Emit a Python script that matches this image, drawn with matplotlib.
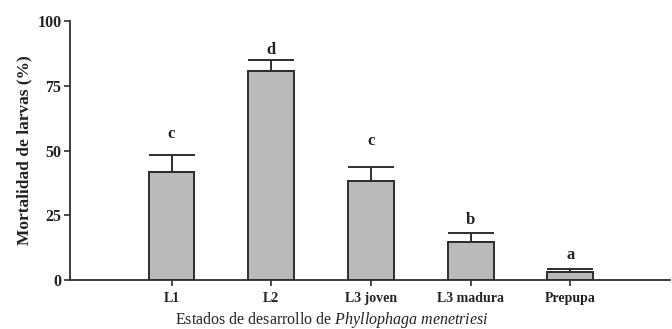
import numpy as np
import matplotlib
matplotlib.use("Agg")
import matplotlib.pyplot as plt

# data
stages = ["L1", "L2", "L3 joven", "L3 madura", "Prepupa"]
mortality = [41.7, 80.6, 38.1, 14.7, 3.0]
sem = [6.7, 4.4, 5.5, 3.6, 1.4]
letters = ["c", "d", "c", "b", "a"]
letter_heights = [56.5, 89.0, 53.5, 23.0, 9.5]

plt.rcParams["font.family"] = ["Liberation Serif", "DejaVu Serif"]
plt.rcParams["mathtext.fontset"] = "custom"
plt.rcParams["mathtext.it"] = "Liberation Serif:italic"
plt.rcParams["mathtext.rm"] = "Liberation Serif"

fig = plt.figure(figsize=(6.72, 3.29), dpi=100)
ax = fig.add_axes([0.104, 0.149, 0.893, 0.787])

x = np.arange(len(stages))
ax.bar(x, mortality, width=0.46, color="#b9babc", edgecolor="#2e2e2e",
       linewidth=1.4, zorder=2)
ax.errorbar(x, mortality, yerr=[np.zeros(len(sem)), sem], fmt="none",
            ecolor="#2e2e2e", elinewidth=1.4, capsize=16.5, capthick=1.4,
            zorder=3)

for xi, h, lab in zip(x, letter_heights, letters):
    ax.text(xi, h, lab, ha="center", va="center",
            fontsize=12, fontweight="bold", color="#222222")

ax.set_xlim(-1.02, 5.0)
ax.set_ylim(0, 100)
ax.set_yticks([0, 25, 50, 75, 100])
ax.set_xticks(x)
ax.set_xticklabels(stages)

for lbl in ax.get_yticklabels():
    lbl.set_fontweight("bold")
    lbl.set_fontsize(11.5)
for lbl in ax.get_xticklabels():
    lbl.set_fontweight("bold")
    lbl.set_fontsize(10)

ax.spines["top"].set_visible(False)
ax.spines["right"].set_visible(False)
ax.spines["left"].set_linewidth(1.3)
ax.spines["bottom"].set_linewidth(1.3)
ax.spines["left"].set_color("#2e2e2e")
ax.spines["bottom"].set_color("#2e2e2e")
ax.tick_params(axis="y", width=1.2, length=4, color="#2e2e2e",
               labelcolor="#222222", pad=2)
ax.tick_params(axis="x", width=1.2, length=4, color="#2e2e2e",
               labelcolor="#222222", pad=5)

ax.set_ylabel("Mortalidad de larvas (%)", fontsize=12.5, fontweight="bold",
              color="#222222")
ax.yaxis.set_label_coords(-0.062, 0.5)
ax.set_xlabel(r"Estados de desarrollo de $\it{Phyllophaga\ menetriesi}$",
              fontsize=11.5, color="#222222")
ax.xaxis.set_label_coords(0.437, -0.115)

fig.savefig("out.png", dpi=100)
